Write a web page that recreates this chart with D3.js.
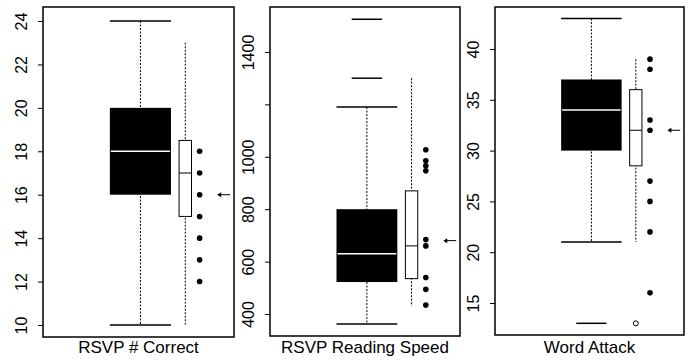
<!DOCTYPE html>
<html>
<head>
<meta charset="utf-8">
<script src="https://cdn.jsdelivr.net/npm/d3@7"></script>
<style>
  body { margin: 0; background: #fff; }
  text { font-family: 'Liberation Sans', Arial, sans-serif; fill: #000; }
</style>
</head>
<body>
<div id="chart"></div>
<script>
// panel titles and axis ticks
const titles = ['RSVP # Correct', 'RSVP Reading Speed', 'Word Attack'];
const tickValues = [
  [10, 12, 14, 16, 18, 20, 22, 24],
  [400, 600, 800, 1000, 1200, 1400],
  [15, 20, 25, 30, 35, 40]
];
const tickLabels = [
  ['10', '12', '14', '16', '18', '20', '22', '24'],
  ['400', '600', '800', '1000', '', '1400'],
  ['15', '20', '25', '30', '35', '40']
];

// black (wide) box: whisker low, q1, median, q3, whisker high
const blackLow = [10, 362, 21];
const blackQ1 = [16, 522, 30];
const blackMed = [18, 630, 34];
const blackQ3 = [20, 800, 37];
const blackHigh = [24, 1190, 43];
const blackOutliers = [[], [1300, 1525], [13]];

// white (narrow) box
const whiteLow = [10, 430, 21];
const whiteQ1 = [15, 535, 28.5];
const whiteMed = [17, 660, 32];
const whiteQ3 = [18.5, 870, 36];
const whiteHigh = [23, 1300, 39];
const whiteOutliers = [[], [], [13]];

// individual scores and arrow marker
const dots = [
  [18, 17, 16, 15, 14, 13, 12],
  [1027, 985, 966, 947, 684, 660, 539, 494, 434],
  [39, 38, 33, 32, 27, 25, 22, 16]
];
const arrows = [16, 680, 32];

const Chart = {
  init() {
    this.width = 693;
    this.height = 360;

    // Panel frames and the pixel span between first and last tick
    this.panels = [
      { left: 43, right: 234, top: 7, bottom: 337, y0: 325, y1: 21 },
      { left: 270, right: 460, top: 7, bottom: 336, y0: 314, y1: 52 },
      { left: 495, right: 684, top: 7, bottom: 335, y0: 303, y1: 49 }
    ];

    this.svg = d3.select('#chart').append('svg')
      .attr('width', this.width)
      .attr('height', this.height);

    this.panels.forEach((p, i) => this.drawPanel(p, i));
  },

  drawPanel(p, i) {
    const g = this.svg.append('g');
    const ticks = tickValues[i];

    const y = d3.scaleLinear()
      .domain([ticks[0], ticks[ticks.length - 1]])
      .range([p.y0, p.y1]);

    const x = d3.scaleLinear()
      .domain([0, 1])
      .range([p.left, p.right]);

    // frame
    g.append('rect')
      .attr('x', p.left)
      .attr('y', p.top)
      .attr('width', p.right - p.left)
      .attr('height', p.bottom - p.top)
      .attr('fill', 'none')
      .attr('stroke', '#000')
      .attr('stroke-width', 1.5);

    // axis
    const ay = d3.axisLeft(y)
      .tickValues(ticks)
      .tickSize(5)
      .tickFormat((d, k) => tickLabels[i][k]);

    const ayCall = g.append('g')
      .attr('transform', `translate(${p.left},0)`)
      .call(ay);

    ayCall.select('.domain').remove();
    ayCall.selectAll('line').attr('stroke', '#000');
    ayCall.selectAll('text')
      .attr('transform', 'rotate(-90)')
      .attr('x', 0)
      .attr('y', -16)
      .attr('dy', 0)
      .attr('text-anchor', 'middle')
      .attr('font-size', '16px')
      .attr('font-family', "'Liberation Sans', Arial, sans-serif");

    // black box
    const bc = x(0.51);
    const bw = x(0.32) - x(0);
    g.append('line')
      .attr('x1', bc).attr('x2', bc)
      .attr('y1', y(blackHigh[i])).attr('y2', y(blackLow[i]))
      .attr('stroke', '#000')
      .attr('stroke-width', 1)
      .attr('stroke-dasharray', '2,1.5');

    [blackHigh[i], blackLow[i]].forEach((v) => {
      g.append('line')
        .attr('x1', bc - bw / 2).attr('x2', bc + bw / 2)
        .attr('y1', y(v)).attr('y2', y(v))
        .attr('stroke', '#000')
        .attr('stroke-width', 1.5);
    });

    g.append('rect')
      .attr('x', bc - bw / 2)
      .attr('y', y(blackQ3[i]))
      .attr('width', bw)
      .attr('height', y(blackQ1[i]) - y(blackQ3[i]))
      .attr('fill', '#000');

    g.append('line')
      .attr('x1', bc - bw / 2 + 1).attr('x2', bc + bw / 2 - 1)
      .attr('y1', y(blackMed[i])).attr('y2', y(blackMed[i]))
      .attr('stroke', '#fff')
      .attr('stroke-width', 1.5);

    // black group outliers drawn as short lines
    g.selectAll('.out-line')
      .data(blackOutliers[i])
      .enter().append('line')
      .attr('x1', bc - bw / 4).attr('x2', bc + bw / 4)
      .attr('y1', (d) => y(d)).attr('y2', (d) => y(d))
      .attr('stroke', '#000')
      .attr('stroke-width', 1.5);

    // white box
    const wc = x(0.745);
    const ww = x(0.065) - x(0);
    g.append('line')
      .attr('x1', wc).attr('x2', wc)
      .attr('y1', y(whiteHigh[i])).attr('y2', y(whiteLow[i]))
      .attr('stroke', '#000')
      .attr('stroke-width', 1)
      .attr('stroke-dasharray', '2,1.5');

    g.append('rect')
      .attr('x', wc - ww / 2)
      .attr('y', y(whiteQ3[i]))
      .attr('width', ww)
      .attr('height', y(whiteQ1[i]) - y(whiteQ3[i]))
      .attr('fill', '#fff')
      .attr('stroke', '#000')
      .attr('stroke-width', 1);

    g.append('line')
      .attr('x1', wc - ww / 2).attr('x2', wc + ww / 2)
      .attr('y1', y(whiteMed[i])).attr('y2', y(whiteMed[i]))
      .attr('stroke', '#000')
      .attr('stroke-width', 1);

    g.selectAll('.out-circle')
      .data(whiteOutliers[i])
      .enter().append('circle')
      .attr('cx', wc)
      .attr('cy', (d) => y(d))
      .attr('r', 2.5)
      .attr('fill', '#fff')
      .attr('stroke', '#000')
      .attr('stroke-width', 1);

    // dots
    g.selectAll('.dot')
      .data(dots[i])
      .enter().append('circle')
      .attr('cx', x(0.82))
      .attr('cy', (d) => y(d))
      .attr('r', 2.8)
      .attr('fill', '#000');

    // arrow
    const ay0 = y(arrows[i]);
    const ax0 = x(0.912);
    const ax1 = x(0.98);
    g.append('line')
      .attr('x1', ax0 + 3).attr('x2', ax1)
      .attr('y1', ay0).attr('y2', ay0)
      .attr('stroke', '#000')
      .attr('stroke-width', 1);
    g.append('path')
      .attr('d', `M${ax0},${ay0}L${ax0 + 4},${ay0 - 2.5}L${ax0 + 4},${ay0 + 2.5}Z`)
      .attr('fill', '#000');

    // title under panel
    g.append('text')
      .attr('x', (p.left + p.right) / 2)
      .attr('y', 353)
      .attr('text-anchor', 'middle')
      .attr('font-size', '17px')
      .text(titles[i]);
  },
};

Chart.init();
</script>
</body>
</html>
